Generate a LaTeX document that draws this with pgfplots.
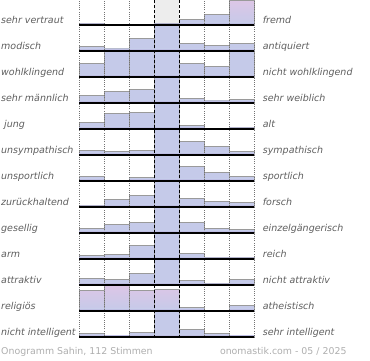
\documentclass[border=0pt]{standalone}
\usepackage{pgfplots}
\pgfplotsset{compat=1.18}
\usepackage{fontspec}
\setmainfont{DejaVu Sans}
\definecolor{barblue}{HTML}{C5CAE9}
\definecolor{barpink}{HTML}{DCC6E6}
\definecolor{barpurple}{HTML}{A89CD0}
\definecolor{bargray}{HTML}{9A9A9A}
\definecolor{labelgray}{HTML}{5E5E5E}
\definecolor{footgray}{HTML}{AEAEAE}
\pgfplotsset{
  onorow/.style={anchor=south west, at={(79.3pt,-#1pt)}, scale only axis, width=175pt, height=26pt,
    xmin=0, xmax=7, ymin=0, ymax=26, hide axis, clip=false},
  bb/.style={ybar, bar width=1, bar shift=0pt, fill=barblue, draw=bargray, line width=0.5pt},
  pb/.style={ybar, bar width=1, bar shift=0pt, top color=barpink, bottom color=barblue, draw=bargray, line width=0.5pt},
  band/.style={ybar, bar width=1, bar shift=0pt, top color=barblue, bottom color=barpurple, draw=none},
  overlay/.style={anchor=north west, at={(79.3pt,0pt)}, scale only axis, width=175pt, height=338pt,
    xmin=0, xmax=7, ymin=-338, ymax=0, axis line style={draw=none}, tick style={draw=none},
    xticklabels={}, yticklabels={}, major tick length=0pt},
}
\newcommand\lab{\fontsize{9.5pt}{11pt}\selectfont\itshape\color{labelgray}}
\newcommand\foot{\fontsize{9.4pt}{11pt}\selectfont\color{footgray}}
\begin{document}
\begin{tikzpicture}[x=1pt,y=1pt]
\path[use as bounding box] (0,0) rectangle (370,-360);
% row 1
\begin{axis}[onorow=25]
\fill[black!7] (axis cs:3,0) rectangle (axis cs:4,26);
\addplot[bb] coordinates {(0.5,1.7)(3.5,1.7)(4.5,5.7)(5.5,10.7)};
\addplot[pb] coordinates {(6.5,24.5)};
\addplot[band] coordinates {(0.5,1.7)(3.5,1.7)(4.5,2.7)(5.5,2.7)(6.5,2.7)};
\end{axis}
% row 2
\begin{axis}[onorow=51]
\addplot[bb] coordinates {(0.5,4.3)(1.5,2.7)(2.5,12.7)(3.5,26)(4.5,7.7)(5.5,5.7)(6.5,7.3)};
\addplot[band] coordinates {(0.5,2.7)(1.5,2.7)(2.5,2.7)(3.5,2.7)(4.5,2.7)(5.5,2.7)(6.5,2.7)};
\end{axis}
% row 3
\begin{axis}[onorow=77]
\addplot[bb] coordinates {(0.5,14)(1.5,26)(2.5,26)(3.5,26)(4.5,14)(5.5,10.7)(6.5,26)};
\addplot[band] coordinates {(0.5,2.7)(1.5,2.7)(2.5,2.7)(3.5,2.7)(4.5,2.7)(5.5,2.7)(6.5,2.7)};
\end{axis}
% row 4
\begin{axis}[onorow=103]
\addplot[bb] coordinates {(0.5,7.7)(1.5,11.7)(2.5,14)(3.5,26)(4.5,4.7)(5.5,2.7)(6.5,3.3)};
\addplot[band] coordinates {(0.5,2.7)(1.5,2.7)(2.5,2.7)(3.5,2.7)(4.5,2.7)(5.5,2.7)(6.5,2.7)};
\end{axis}
% row 5
\begin{axis}[onorow=129]
\addplot[bb] coordinates {(0.5,6.3)(1.5,15.7)(2.5,16.7)(3.5,26)(4.5,3.3)(6.5,1.7)};
\addplot[band] coordinates {(0.5,2.7)(1.5,2.7)(2.5,2.7)(3.5,2.7)(4.5,2.7)(6.5,1.7)};
\end{axis}
% row 6
\begin{axis}[onorow=155]
\addplot[bb] coordinates {(0.5,5)(1.5,4)(2.5,5)(3.5,26)(4.5,13.3)(5.5,8.3)(6.5,3.3)};
\addplot[band] coordinates {(0.5,2.7)(1.5,2.7)(2.5,2.7)(3.5,2.7)(4.5,2.7)(5.5,2.7)(6.5,2.7)};
\end{axis}
% row 7
\begin{axis}[onorow=181]
\addplot[bb] coordinates {(0.5,4.3)(2.5,3.3)(3.5,26)(4.5,15)(5.5,8.3)(6.5,4.3)};
\addplot[band] coordinates {(0.5,2.7)(2.5,2.7)(3.5,2.7)(4.5,2.7)(5.5,2.7)(6.5,2.7)};
\end{axis}
% row 8
\begin{axis}[onorow=207]
\addplot[bb] coordinates {(0.5,1.7)(1.5,7.3)(2.5,11.7)(3.5,26)(4.5,8.3)(5.5,5.7)(6.5,4.3)};
\addplot[band] coordinates {(0.5,1.7)(1.5,2.7)(2.5,2.7)(3.5,2.7)(4.5,2.7)(5.5,2.7)(6.5,2.7)};
\end{axis}
% row 9
\begin{axis}[onorow=233]
\addplot[bb] coordinates {(0.5,5)(1.5,8.3)(2.5,11)(3.5,26)(4.5,11)(5.5,4.7)(6.5,3.3)};
\addplot[band] coordinates {(0.5,2.7)(1.5,2.7)(2.5,2.7)(3.5,2.7)(4.5,2.7)(5.5,2.7)(6.5,2.7)};
\end{axis}
% row 10
\begin{axis}[onorow=259]
\addplot[bb] coordinates {(0.5,4)(1.5,5)(2.5,14)(3.5,26)(4.5,5.7)(5.5,1.7)(6.5,1.7)};
\addplot[band] coordinates {(0.5,2.7)(1.5,2.7)(2.5,2.7)(3.5,2.7)(4.5,2.7)(5.5,1.7)(6.5,1.7)};
\end{axis}
% row 11
\begin{axis}[onorow=285]
\addplot[bb] coordinates {(0.5,6.7)(1.5,5.7)(2.5,11.7)(3.5,26)(4.5,4.3)(5.5,1.7)(6.5,5.7)};
\addplot[band] coordinates {(0.5,2.7)(1.5,2.7)(2.5,2.7)(3.5,2.7)(4.5,2.7)(5.5,1.7)(6.5,2.7)};
\end{axis}
% row 12
\begin{axis}[onorow=311]
\addplot[pb] coordinates {(0.5,21)(1.5,26)(2.5,20.3)(3.5,22)};
\addplot[bb] coordinates {(4.5,3.7)(6.5,5.7)};
\addplot[band] coordinates {(0.5,2.7)(1.5,2.7)(2.5,2.7)(3.5,2.7)(4.5,2.7)(6.5,2.7)};
\end{axis}
% row 13
\begin{axis}[onorow=337]
\addplot[bb] coordinates {(0.5,3.3)(1.5,2)(2.5,4.7)(3.5,26)(4.5,7.3)(5.5,3.3)(6.5,2)};
\addplot[band] coordinates {(0.5,2.7)(1.5,2)(2.5,2.7)(3.5,2.7)(4.5,2.7)(5.5,2.7)(6.5,2)};
\end{axis}
% dotted vertical grid
\begin{axis}[overlay, xtick={0,1,2,5,6,7}, ytick=\empty, xmajorgrids,
  x grid style={draw=black!55, line width=0.6pt, dash pattern=on 0.8pt off 1.4pt}]
\end{axis}
% black baselines
\begin{axis}[overlay, xtick=\empty, ytick={-25,-51,-77,-103,-129,-155,-181,-207,-233,-259,-285,-311,-337}, ymajorgrids,
  y grid style={draw=black, line width=1.2pt}]
\end{axis}
% dashed centre lines
\begin{axis}[overlay, xtick={3,4}, ytick=\empty, xmajorgrids,
  x grid style={draw=black, line width=0.9pt, dash pattern=on 3pt off 2pt}]
\end{axis}
% labels
\begin{scope}[every node/.style={inner sep=0pt, anchor=base west}]
\node at (1,-23.8) {\lab sehr vertraut};
\node at (1,-49.8) {\lab modisch};
\node at (1,-75.8) {\lab wohlklingend};
\node at (1,-101.8) {\lab sehr männlich};
\node at (4,-127.8) {\lab jung};
\node at (1,-153.8) {\lab unsympathisch};
\node at (1,-179.8) {\lab unsportlich};
\node at (1,-205.8) {\lab zurückhaltend};
\node at (1,-231.8) {\lab gesellig};
\node at (1,-257.8) {\lab arm};
\node at (1,-283.8) {\lab attraktiv};
\node at (1,-309.8) {\lab religiös};
\node at (1,-335.8) {\lab nicht intelligent};
\node at (262.7,-23.8) {\lab fremd};
\node at (262.7,-49.8) {\lab antiquiert};
\node at (262.7,-75.8) {\lab nicht wohlklingend};
\node at (262.7,-101.8) {\lab sehr weiblich};
\node at (262.7,-127.8) {\lab alt};
\node at (262.7,-153.8) {\lab sympathisch};
\node at (262.7,-179.8) {\lab sportlich};
\node at (262.7,-205.8) {\lab forsch};
\node at (262.7,-231.8) {\lab einzelgängerisch};
\node at (262.7,-257.8) {\lab reich};
\node at (262.7,-283.8) {\lab nicht attraktiv};
\node at (262.7,-309.8) {\lab atheistisch};
\node at (262.7,-335.8) {\lab sehr intelligent};
\node at (1,-354.3) {\foot Onogramm Sahin, 112 Stimmen};
\node[anchor=base east] at (346.7,-354.3) {\foot onomastik.com - 05 / 2025};
\end{scope}
\end{tikzpicture}
\end{document}
